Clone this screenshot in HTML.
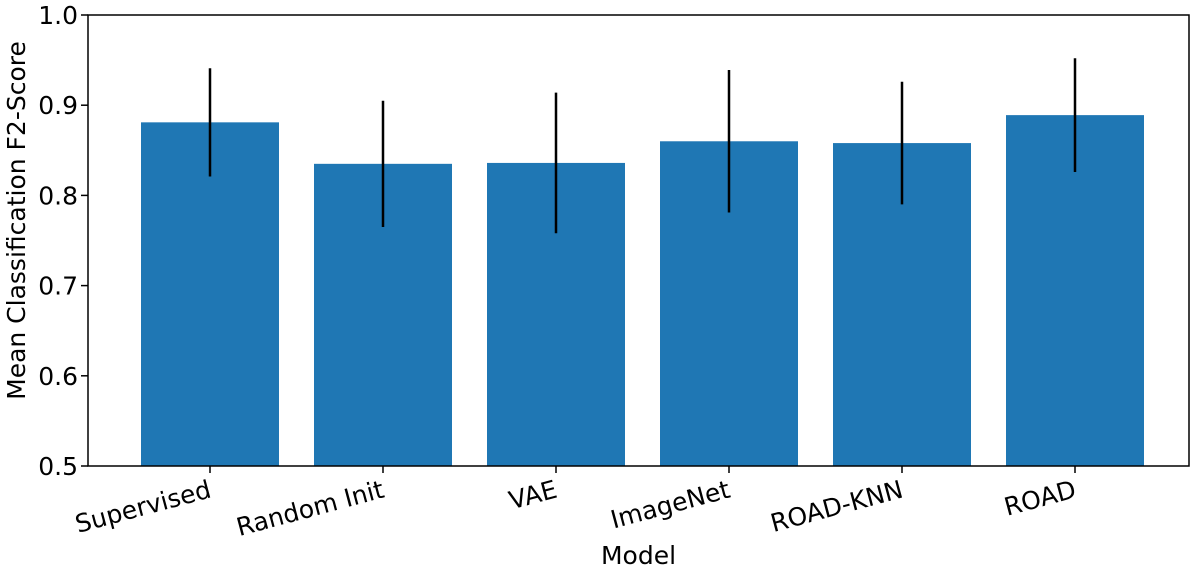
<!DOCTYPE html>
<html><head><meta charset="utf-8"><style>
body{margin:0;background:#fff;}
svg{display:block;font-family:"DejaVu Sans","Liberation Sans",sans-serif;}
</style></head><body>
<svg id="chart" width="1200" height="571"></svg>
<script>
const categories=["Supervised","Random Init","VAE","ImageNet","ROAD-KNN","ROAD"];
const means=[0.881,0.835,0.836,0.860,0.858,0.889];
const errors=[0.060,0.070,0.078,0.079,0.068,0.063];
const yTicks=[0.5,0.6,0.7,0.8,0.9,1.0];
const tickLabels=["0.5","0.6","0.7","0.8","0.9","1.0"];

const NS="http://www.w3.org/2000/svg";
const svg=document.getElementById('chart');
const L=88,R=1189,T=15,B=466,yMin=0.5,yMax=1.0;
const y=v=>B-(v-yMin)/(yMax-yMin)*(B-T);
const step=173,bw=138,x0=210;
const xc=i=>x0+i*step;
function mk(tag,attrs,parent){const e=document.createElementNS(NS,tag);for(const k in attrs)e.setAttribute(k,attrs[k]);(parent||svg).appendChild(e);return e;}

categories.forEach((c,i)=>{
  const b=mk('rect',{x:xc(i)-bw/2,y:y(means[i]),width:bw,height:B-y(means[i]),fill:'#1f77b4'});
  
  
  const e=mk('line',{x1:xc(i),x2:xc(i),y1:y(means[i]+errors[i]),y2:y(means[i]-errors[i]),stroke:'#000','stroke-width':2.5});
  
  
  mk('line',{x1:xc(i),x2:xc(i),y1:B,y2:B+7,stroke:'#000','stroke-width':1.5});
  const t=mk('text',{x:xc(i)-2,y:B+31,'font-size':25,'text-anchor':'end',transform:`rotate(-15 ${xc(i)} ${B+14})`});
  
  
  t.textContent=c;
});
yTicks.forEach((v,i)=>{
  mk('line',{x1:L-7,x2:L,y1:y(v),y2:y(v),stroke:'#000','stroke-width':1.5});
  const t=mk('text',{x:L-10,y:y(v)+9,'font-size':25,'text-anchor':'end'});
  
  
  t.textContent=tickLabels[i];
});
const f=mk('rect',{x:L,y:T,width:R-L,height:B-T,fill:'none',stroke:'#000','stroke-width':1.5});


const xl=mk('text',{x:(L+R)/2,y:564,'font-size':25,'text-anchor':'middle'});


xl.textContent='Model';
const yl=mk('text',{x:0,y:0,'font-size':25,'text-anchor':'middle',transform:`translate(25 ${(T+B)/2-20}) rotate(-90)`});


yl.textContent='Mean Classification F2-Score';
</script>
</body></html>
